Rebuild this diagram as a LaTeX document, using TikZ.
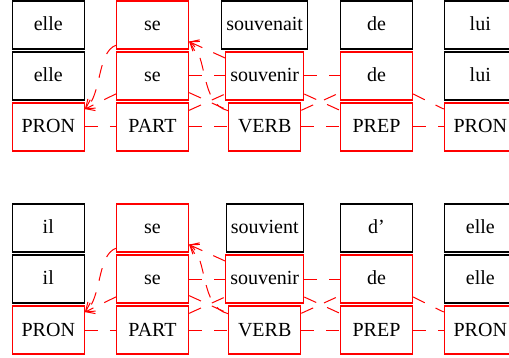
\documentclass[tikz,border=0pt]{standalone}
\usepackage{fontspec}
\setmainfont{Liberation Serif}
\usetikzlibrary{arrows.meta}
\newcommand{\drawgroup}[6]{%
\begin{scope}[shift={(0,#2)}]
  \node[wbox] (#1a1) at (48.3,25) {#3};
  \node[rbox] (#1a2) at (152.5,25) {se};
  \node[wbox] (#1a3) at (264.7,25) {#4};
  \node[wbox] (#1a4) at (376.5,25) {#5};
  \node[wbox] (#1a5) at (480.3,25) {#6};
  \node[wbox] (#1b1) at (48.3,76) {#3};
  \node[rbox] (#1b2) at (152.5,76) {se};
  \node[rbox] (#1b3) at (264.7,76) {souvenir};
  \node[rbox] (#1b4) at (376.5,76) {de};
  \node[wbox] (#1b5) at (480.3,76) {#6};
  \node[rbox] (#1c1) at (48.3,127) {PRON};
  \node[rbox] (#1c2) at (152.5,127) {PART};
  \node[rbox] (#1c3) at (264.7,127) {VERB};
  \node[rbox] (#1c4) at (376.5,127) {PREP};
  \node[rbox] (#1c5) at (480.3,127) {PRON};
  \draw[link] (#1c1) -- (#1c2);
  \draw[link] (#1c2) -- (#1c3);
  \draw[link] (#1c3) -- (#1c4);
  \draw[link] (#1c4) -- (#1c5);
  \draw[link] (#1b2) -- (#1b3);
  \draw[link] (#1b3) -- (#1b4);
  \draw[link] (#1b2) -- (#1c3);
  \draw[link] (#1c2) -- (#1b3);
  \draw[link] (#1b3) -- (#1c4);
  \draw[link] (#1c3) -- (#1b4);
  \draw[link] (#1b4) -- (#1c5);
  \draw[arr] (#1b2) -- (#1c1);
  \draw[arr] (#1b3) -- (#1a2);
  \draw[arr] (#1a2.209) .. controls +(-19,7) and +(17,-14) .. (#1c1.26);
  \draw[arr] (#1c3.156) .. controls +(-28.7,-7) and +(19.3,13.5) .. (#1a2.336);
\end{scope}}
\begin{document}
\begin{tikzpicture}[x=0.5pt,y=-0.5pt,
  wbox/.style={draw=black,line width=0.6pt,minimum width=36pt,minimum height=24pt,
    inner xsep=2.3pt,inner ysep=0pt,text height=7pt,text depth=1pt,
    font=\fontsize{10}{12}\selectfont},
  rbox/.style={wbox,draw=red},
  link/.style={draw=red,line width=0.5pt,dash pattern=on 6.5pt off 6pt},
  arr/.style={link,-{Straight Barb[length=4pt,width=6pt]}}]
\useasboundingbox (0,0) rectangle (509,358);
\clip (0,0) rectangle (509,358);
\drawgroup{t}{0}{elle}{souvenait}{de}{lui}
\drawgroup{u}{203}{il}{souvient}{d’}{elle}
\end{tikzpicture}
\end{document}
